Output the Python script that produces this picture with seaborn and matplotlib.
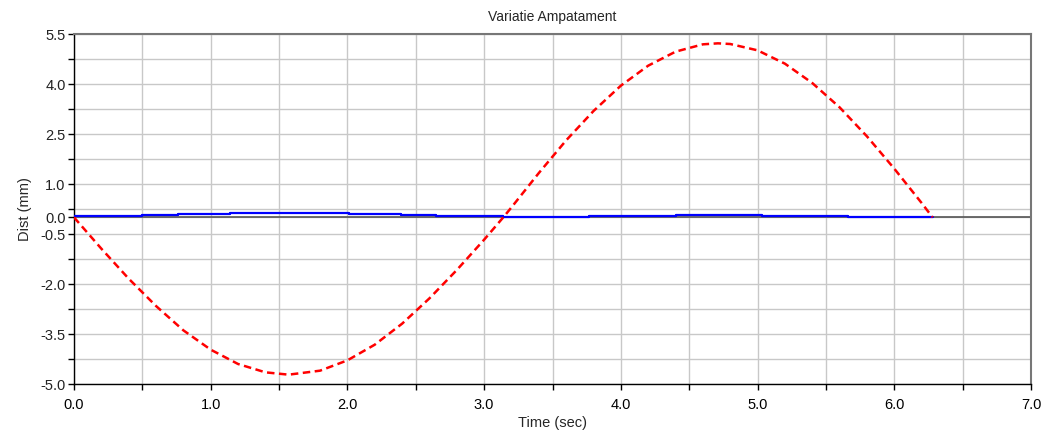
import matplotlib
matplotlib.use("Agg")
import matplotlib.pyplot as plt
import seaborn as sns
import numpy as np
import pandas as pd
from matplotlib.ticker import FixedLocator

# ---- data ----
time_red = [0.0, 0.2, 0.4, 0.6, 0.8, 1.0, 1.2, 1.4, 1.57, 1.8, 2.0, 2.2, 2.4, 2.6,
            2.8, 3.0, 3.14, 3.2, 3.4, 3.6, 3.8, 4.0, 4.2, 4.4, 4.6, 4.71, 4.8, 5.0,
            5.2, 5.4, 5.6, 5.8, 6.0, 6.2, 6.28]
dist_red = [0.0, -0.94, -1.84, -2.66, -3.39, -3.97, -4.40, -4.65, -4.72, -4.60,
            -4.29, -3.82, -3.19, -2.43, -1.58, -0.67, 0.0, 0.30, 1.33, 2.31,
            3.19, 3.95, 4.55, 4.97, 5.19, 5.22, 5.20, 5.01, 4.61, 4.03, 3.30, 2.43,
            1.46, 0.43, 0.0]

time_blue = [0.0, 0.5, 0.76, 1.14, 2.01, 2.39, 2.65, 3.14, 3.77, 4.40, 5.03, 5.66, 6.28]
dist_blue = [0.03, 0.07, 0.10, 0.13, 0.10, 0.07, 0.04, 0.0, 0.04, 0.07, 0.04, 0.0, 0.0]

y_major = [5.5, 4.0, 2.5, 1.0, 0.0, -0.5, -2.0, -3.5, -5.0]
y_minor = [4.75, 3.25, 1.75, 0.25, -1.25, -2.75, -4.25]
x_major = [0, 1, 2, 3, 4, 5, 6, 7]
x_minor = [0.5, 1.5, 2.5, 3.5, 4.5, 5.5, 6.5]

title = "Variatie Ampatament"
xlabel = "Time (sec)"
ylabel = "Dist (mm)"

# ---- plot ----
sns.set_style("white")
plt.rcParams['font.family'] = ['Liberation Sans', 'DejaVu Sans']

fig = plt.figure(figsize=(10.42, 4.30), dpi=100)
ax = fig.add_axes([74/1042, 1-384/430, (1031-74)/1042, (384-34)/430])

df_red = pd.DataFrame({"t": time_red, "d": dist_red})
df_blue = pd.DataFrame({"t": time_blue, "d": dist_blue})

ax.set_xlim(0, 7)
ax.set_ylim(-5.0, 5.5)

ax.xaxis.set_major_locator(FixedLocator(x_major))
ax.xaxis.set_minor_locator(FixedLocator(x_minor))
ax.yaxis.set_major_locator(FixedLocator(y_major))
ax.yaxis.set_minor_locator(FixedLocator(y_minor))
ax.set_xticklabels([f"{v:.1f}" for v in x_major])
ax.set_yticklabels([f"{v:.1f}" for v in y_major])

ax.grid(True, which="both", color="#c8c8c8", linewidth=1.0)
ax.set_axisbelow(True)

ax.axhline(0, color="#555555", linewidth=1.2, zorder=2)

sns.lineplot(data=df_blue, x="t", y="d", ax=ax, color="#0000ff", linewidth=1.6,
             drawstyle="steps-post", zorder=3, legend=False)
sns.lineplot(data=df_red, x="t", y="d", ax=ax, color="#ff0000", linewidth=1.8,
             zorder=4, legend=False, sort=False, estimator=None)
ax.lines[-1].set_dashes((3.0, 1.8))

ax.tick_params(axis="both", which="both", direction="out", length=4, width=1,
               colors="black", labelsize=10.5, pad=2, bottom=True, left=True)
ax.tick_params(axis="y", which="major", labelcolor="#222222")
ax.tick_params(axis="x", which="major", pad=6)

for s in ["left", "bottom"]:
    ax.spines[s].set_color("black")
    ax.spines[s].set_linewidth(1.0)
for s in ["top", "right"]:
    ax.spines[s].set_color("#777777")
    ax.spines[s].set_linewidth(1.5)

ax.set_title(title, fontsize=10, pad=9)
ax.set_xlabel(xlabel, fontsize=10.5, labelpad=3)
ax.set_ylabel(ylabel, fontsize=10.5, labelpad=6)

fig.savefig("out.png", dpi=100)
